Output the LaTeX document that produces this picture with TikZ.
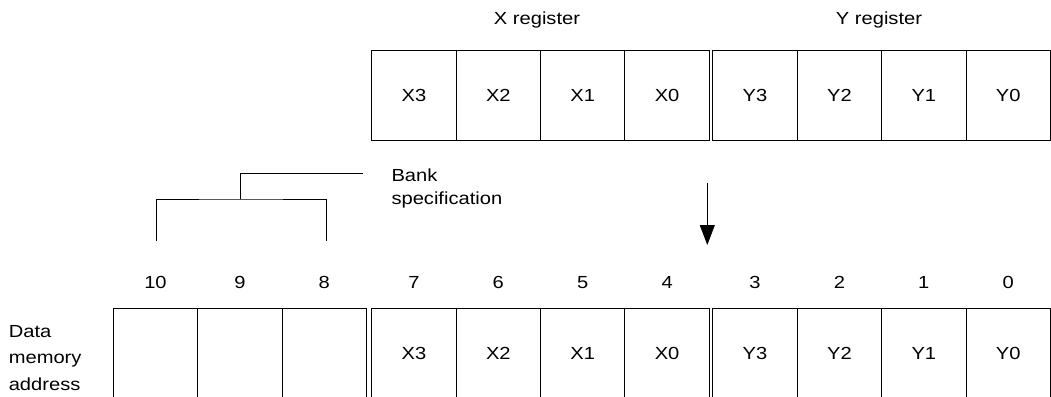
\documentclass[tikz,border=0pt]{standalone}
\usepackage{fontspec}
\setmainfont{Liberation Sans}[FakeStretch=1.15]
\usetikzlibrary{arrows.meta}

\begin{document}
\begin{tikzpicture}[x=1pt,y=-1pt,line width=1pt,
    cell/.style={draw,minimum width=84.4pt,minimum height=90pt,inner sep=0pt,
      font=\fontsize{17.5}{21}\selectfont},
    lbl/.style={inner sep=0pt,font=\fontsize{17.5}{21}\selectfont}]
  \useasboundingbox (0,0) rectangle (1051,396);
  \clip (0,0) rectangle (1051,396);
  % register labels
  \node[lbl,anchor=base] (xreg) at (537,24.3) {X register};
  \node[lbl,anchor=base] (yreg) at (879,24.3) {Y register};
  % X and Y register
  \foreach \i [count=\k from 0] in {3,2,1,0} {
    \node[cell] (xr\i) at (413.9+84.4*\k,95.7) {X\i};
    \node[cell] (yr\i) at (755+84.4*\k,95.7) {Y\i};
  }
  % data memory address
  \foreach \n [count=\k from 0] in {10,9,8} {
    \node[cell] (mem\n) at (155.5+84.4*\k,353) {};
  }
  \foreach \i/\n [count=\k from 0] in {3/7,2/6,1/5,0/4} {
    \node[cell] (mem\n) at (413.9+84.4*\k,353) {X\i};
  }
  \foreach \i [count=\k from 0] in {3,2,1,0} {
    \node[cell] (mem\i) at (755+84.4*\k,353) {Y\i};
  }
  \foreach \n in {10,9,...,0} {
    \node[lbl,anchor=base] (bit\n) at ([yshift=18.7pt]mem\n.north) {\n};
  }
  \node[lbl,align=left,anchor=north west,font=\fontsize{17.5}{26.3}\selectfont]
    (dma) at (8.3,325) {Data\\memory\\address};
  % bank specification bracket
  \node[lbl,align=left,anchor=north west,font=\fontsize{17.5}{23.5}\selectfont]
    (bank) at (391,168) {Bank\\specification};
  \coordinate (bj) at (240.5,199);
  \coordinate (bk) at (363,173);
  \coordinate (b10) at (156.5,241);
  \coordinate (b8) at (326,241);
  \draw (b10) |- (bj) -| (b8);
  \draw (bj) |- (bk);
  % arrow
  \coordinate (as) at (707.3,183.3);
  \coordinate (ae) at (707.3,245);
  \draw[-{Triangle[width=15pt,length=20pt]}] (as) -- (ae);
\end{tikzpicture}
\end{document}
